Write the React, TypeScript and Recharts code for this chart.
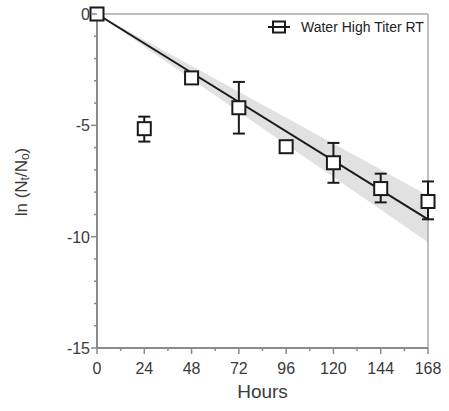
import React from 'react';
import { ComposedChart, Scatter, Line, Area, XAxis, YAxis, ErrorBar, ReferenceLine, Label } from 'recharts';

const hours = [0, 24, 48, 72, 96, 120, 144, 168];
const lnRatio = [0, -5.15, -2.87, -4.21, -5.96, -6.68, -7.84, -8.42];
const errDown = [0, 0.58, 0.2, 1.16, 0.2, 0.9, 0.62, 0.8];
const errUp = [0, 0.54, 0.2, 1.16, 0.2, 0.89, 0.67, 0.9];

const fitHours = [0, 168];
const fitValue = [0, -9.22];
const bandLower = [0, -10.25];
const bandUpper = [0, -8.15];

const xTicks = [0, 12, 24, 36, 48, 60, 72, 84, 96, 108, 120, 132, 144, 156, 168];
const yTicks = [0, -1, -2, -3, -4, -5, -6, -7, -8, -9, -10, -11, -12, -13, -14, -15];

const points = hours.map((h, i) => ({ h, v: lnRatio[i], err: [errDown[i], errUp[i]] }));
const fit = fitHours.map((h, i) => ({ h, fit: fitValue[i], band: [bandLower[i], bandUpper[i]] }));

const AXIS = '#8a8a8a';
const TEXT = '#3a3a3a';
const FONT = 'Liberation Sans, Arial, sans-serif';

const XTick = (props: any) => {
  const { x, y, payload } = props;
  const major = payload.value % 24 === 0;
  return (
    <g>
      <line x1={x} x2={x} y1={y} y2={y + (major ? 6 : 3)} stroke={AXIS} strokeWidth={1.5} />
      {major && (
        <text x={x} y={y + 26} textAnchor="middle" fontSize={16} fill={TEXT} fontFamily={FONT}>
          {payload.value}
        </text>
      )}
    </g>
  );
};

const YTick = (props: any) => {
  const { x, y, payload } = props;
  const major = payload.value % 5 === 0;
  return (
    <g>
      <line x1={x - (major ? 6 : 3)} x2={x} y1={y} y2={y} stroke={AXIS} strokeWidth={1.5} />
      {major && (
        <text x={x - 7} y={y + 6} textAnchor="end" fontSize={16} fill={TEXT} fontFamily={FONT}>
          {payload.value}
        </text>
      )}
    </g>
  );
};

const Square = (props: any) => {
  const { cx, cy } = props;
  if (cx == null || cy == null) return null;
  return <rect x={cx - 6.5} y={cy - 6.5} width={13} height={13} fill="#fff" stroke="#1a1a1a" strokeWidth={2} />;
};

const LegendBox = () => (
  <div style={{ position: 'absolute', left: 267, top: 19, display: 'flex', alignItems: 'center', fontFamily: FONT, fontSize: 14, color: '#222', whiteSpace: 'nowrap' }}>
    <svg width={24} height={14} style={{ marginRight: 10 }}>
      <line x1={1} x2={23} y1={7} y2={7} stroke="#1a1a1a" strokeWidth={2} />
      <rect x={6} y={1.5} width={12} height={11} fill="#fff" stroke="#1a1a1a" strokeWidth={2} />
      <line x1={6} x2={18} y1={7} y2={7} stroke="#1a1a1a" strokeWidth={2} />
    </svg>
    <span>Water High Titer RT</span>
  </div>
);

const YLabel = () => (
  <text x={21} y={182} transform="rotate(-90, 21, 182)" textAnchor="middle" fontSize={17} fill={TEXT} fontFamily={FONT} dominantBaseline="central">
    ln (N
    <tspan fontSize={12} dy={4}>t</tspan>
    <tspan dy={-4}>/N</tspan>
    <tspan fontSize={12} dy={4}>o</tspan>
    <tspan dy={-4}>)</tspan>
  </text>
);

export default function App() {
  return (
    <div style={{ position: 'absolute', left: 0, top: 0, width: 449, height: 411, background: '#fff' }}>
      <ComposedChart width={449} height={411} margin={{ top: 14, right: 21, left: 37, bottom: 13 }}>
        <XAxis
          type="number"
          dataKey="h"
          domain={[0, 168]}
          ticks={xTicks}
          interval={0}
          tick={<XTick />}
          tickLine={false}
          tickSize={0}
          tickMargin={0}
          axisLine={{ stroke: AXIS, strokeWidth: 2 }}
          height={50}
          allowDuplicatedCategory={false}
        >
          <Label value="Hours" position="insideBottom" offset={0} fontSize={19} fill={TEXT} fontFamily={FONT} />
        </XAxis>
        <YAxis
          type="number"
          domain={[-15, 0]}
          ticks={yTicks}
          interval={0}
          tick={<YTick />}
          tickLine={false}
          tickSize={0}
          tickMargin={0}
          axisLine={{ stroke: AXIS, strokeWidth: 2 }}
          width={60}
          label={<YLabel />}
        />
        <ReferenceLine y={0} stroke="#a8a8a8" strokeWidth={1.5} />
        <ReferenceLine x={168} stroke="#a8a8a8" strokeWidth={1.5} />
        <Area data={fit} dataKey="band" type="linear" stroke="none" fill="#d9d9d9" fillOpacity={0.8} isAnimationActive={false} />
        <Line data={fit} dataKey="fit" type="linear" stroke="#1a1a1a" strokeWidth={2} dot={false} isAnimationActive={false} />
        <Scatter data={points} dataKey="v" shape={<Square />} isAnimationActive={false} name="Water High Titer RT">
          <ErrorBar dataKey="err" direction="y" width={6} stroke="#1a1a1a" strokeWidth={2} />
        </Scatter>
      </ComposedChart>
      <LegendBox />
    </div>
  );
}
